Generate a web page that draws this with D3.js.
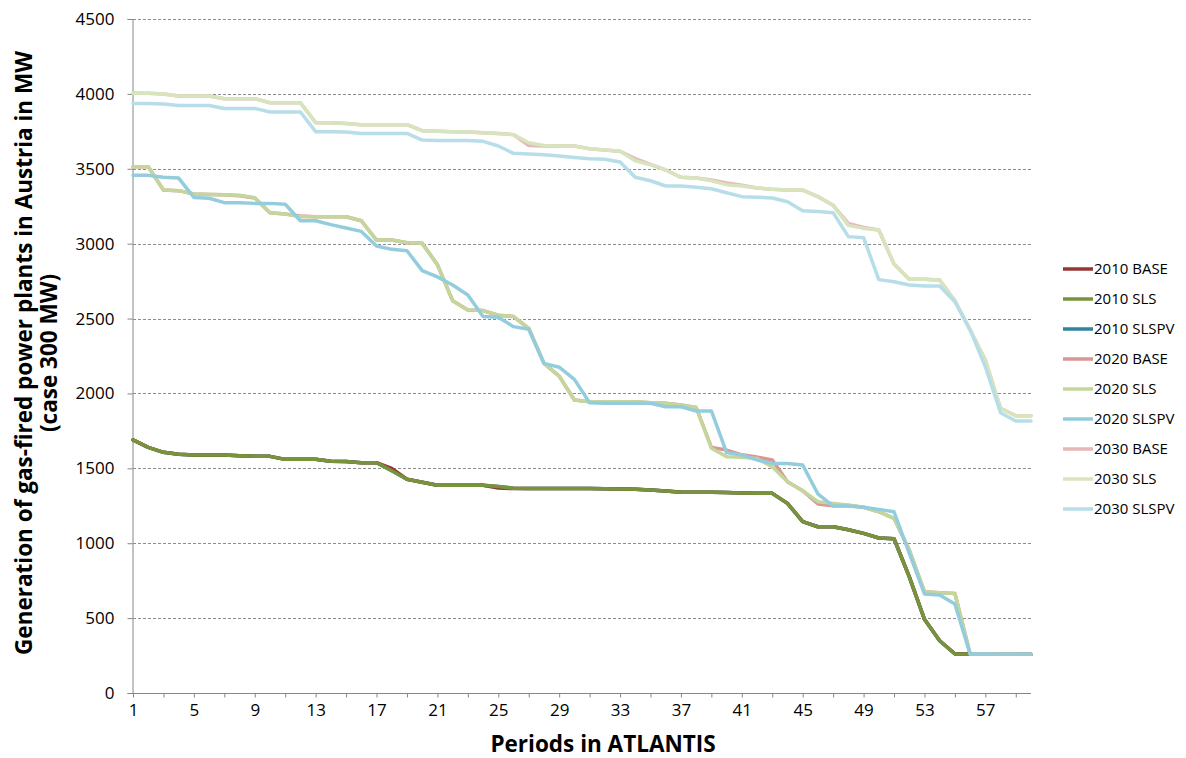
<!DOCTYPE html>
<html>
<head>
<meta charset="utf-8">
<script src="https://cdn.jsdelivr.net/npm/d3@7"></script>
<style>
  html, body { margin: 0; padding: 0; background: #ffffff; }
  svg { display: block; }
  text { font-family: "Open Sans", Lato, "Liberation Sans", sans-serif; fill: #000; }
</style>
</head>
<body>
<svg id="chart" width="1186" height="758"></svg>
<script>
// Periods 1..60 of the ATLANTIS run
const periods = d3.range(1, 61);
const xTickLabels = [1, 5, 9, 13, 17, 21, 25, 29, 33, 37, 41, 45, 49, 53, 57];
const yTicks = [0, 500, 1000, 1500, 2000, 2500, 3000, 3500, 4000, 4500];

const seriesNames = ["2010 BASE", "2010 SLS", "2010 SLSPV",
                     "2020 BASE", "2020 SLS", "2020 SLSPV",
                     "2030 BASE", "2030 SLS", "2030 SLSPV"];
const seriesColors = ["#953735", "#77933c", "#31859c",
                      "#d99694", "#c3d69b", "#93cddd",
                      "#e6b9b8", "#d7e4bd", "#b7dee8"];

// Gas-fired generation in Austria, MW (case 300 MW)
const gen2010Base = [1690, 1640, 1607, 1594, 1589, 1589, 1589, 1584, 1580, 1580,
                     1560, 1560, 1560, 1547, 1545, 1538, 1538, 1500, 1427, 1407,
                     1387, 1387, 1387, 1387, 1368, 1365, 1365, 1365, 1365, 1365,
                     1365, 1364, 1362, 1360, 1355, 1349, 1342, 1340, 1340, 1338,
                     1335, 1333, 1333, 1266, 1144, 1110, 1110, 1090, 1066, 1035,
                     1030, 777, 492, 349, 262, 262, 261, 260, 260, 258];
const gen2010Sls  = [1690, 1640, 1607, 1594, 1589, 1589, 1589, 1584, 1580, 1580,
                     1560, 1560, 1560, 1547, 1545, 1538, 1538, 1484, 1427, 1407,
                     1387, 1387, 1387, 1387, 1378, 1367, 1365, 1365, 1365, 1365,
                     1365, 1364, 1362, 1360, 1355, 1349, 1340, 1340, 1340, 1338,
                     1335, 1333, 1333, 1266, 1144, 1110, 1110, 1090, 1066, 1035,
                     1030, 777, 492, 349, 260, 260, 260, 259, 258, 258];
const gen2010Slspv = gen2010Sls.slice();

const gen2020Base = [3514, 3514, 3358, 3354, 3332, 3328, 3326, 3320, 3305, 3207,
                     3198, 3185, 3180, 3180, 3180, 3153, 3024, 3024, 3006, 3002,
                     2860, 2619, 2557, 2553, 2522, 2513, 2435, 2201, 2116, 1956,
                     1945, 1945, 1945, 1945, 1938, 1934, 1923, 1907, 1640, 1622,
                     1590, 1575, 1556, 1411, 1351, 1262, 1250, 1252, 1240, 1210,
                     1166, 955, 676, 670, 665, 262, 262, 261, 260, 258];
const gen2020Sls  = [3514, 3514, 3358, 3354, 3332, 3328, 3326, 3323, 3307, 3207,
                     3198, 3180, 3180, 3180, 3180, 3153, 3024, 3024, 3006, 3002,
                     2860, 2619, 2557, 2553, 2522, 2513, 2435, 2201, 2116, 1956,
                     1945, 1945, 1945, 1945, 1938, 1934, 1923, 1907, 1634, 1578,
                     1574, 1565, 1511, 1411, 1351, 1277, 1266, 1255, 1240, 1210,
                     1166, 955, 676, 670, 665, 260, 260, 259, 258, 258];
const gen2020Slspv = [3456, 3456, 3443, 3438, 3309, 3303, 3274, 3274, 3269, 3269,
                      3263, 3153, 3153, 3127, 3105, 3082, 2984, 2962, 2953, 2820,
                      2778, 2724, 2657, 2513, 2508, 2446, 2428, 2201, 2175, 2094,
                      1938, 1934, 1934, 1934, 1934, 1911, 1911, 1883, 1883, 1605,
                      1589, 1556, 1533, 1533, 1522, 1329, 1248, 1248, 1240, 1226,
                      1210, 933, 661, 654, 594, 260, 260, 259, 258, 258];

const gen2030Base = [4004, 4004, 3999, 3986, 3986, 3986, 3968, 3968, 3968, 3941,
                     3941, 3941, 3808, 3808, 3803, 3794, 3794, 3794, 3794, 3754,
                     3750, 3748, 3745, 3741, 3736, 3728, 3655, 3652, 3652, 3652,
                     3634, 3625, 3617, 3568, 3530, 3492, 3443, 3439, 3425, 3405,
                     3390, 3372, 3363, 3358, 3358, 3314, 3256, 3135, 3108, 3091,
                     2864, 2762, 2762, 2757, 2619, 2424, 2223, 1901, 1851, 1851];
const gen2030Sls  = [4004, 4004, 3999, 3986, 3986, 3986, 3968, 3968, 3968, 3941,
                     3941, 3941, 3808, 3808, 3803, 3794, 3794, 3794, 3794, 3754,
                     3750, 3748, 3745, 3741, 3736, 3728, 3674, 3656, 3652, 3652,
                     3634, 3625, 3617, 3554, 3527, 3492, 3443, 3439, 3420, 3394,
                     3385, 3372, 3363, 3358, 3358, 3314, 3256, 3122, 3102, 3091,
                     2866, 2762, 2762, 2757, 2619, 2424, 2223, 1901, 1851, 1851];
const gen2030Slspv = [3936, 3936, 3932, 3923, 3923, 3923, 3903, 3903, 3903, 3879,
                      3879, 3879, 3748, 3748, 3745, 3736, 3736, 3736, 3736, 3692,
                      3688, 3688, 3688, 3683, 3652, 3603, 3598, 3594, 3585, 3576,
                      3567, 3563, 3545, 3443, 3420, 3385, 3385, 3376, 3367, 3340,
                      3314, 3310, 3305, 3280, 3220, 3214, 3207, 3047, 3040, 2760,
                      2746, 2724, 2717, 2717, 2612, 2424, 2178, 1871, 1816, 1816];

const seriesValues = [gen2010Base, gen2010Sls, gen2010Slspv,
                      gen2020Base, gen2020Sls, gen2020Slspv,
                      gen2030Base, gen2030Sls, gen2030Slspv];

const series = seriesNames.map((name, i) => ({
  name, color: seriesColors[i],
  points: periods.map((p, j) => ({ p, v: seriesValues[i][j] }))
}));

// Layout
const plot = { left: 133, right: 1031, top: 19, bottom: 693 };
const svg = d3.select("#chart");

const x = d3.scaleLinear().domain([1, 60]).range([plot.left, plot.right]);
const y = d3.scaleLinear().domain([0, 4500]).range([plot.bottom, plot.top]);

// Horizontal dashed gridlines
svg.append("g")
  .selectAll("line")
  .data(yTicks.filter(t => t > 0))
  .join("line")
  .attr("x1", plot.left).attr("x2", plot.right)
  .attr("y1", d => Math.round(y(d)) + 0.5).attr("y2", d => Math.round(y(d)) + 0.5)
  .attr("stroke", "#8c8c8c")
  .attr("stroke-width", 1)
  .attr("stroke-dasharray", "3,2");

// Y axis
const yAxis = d3.axisLeft(y).tickValues(yTicks).tickSize(5).tickPadding(13)
  .tickFormat(d3.format("d"));
const gy = svg.append("g")
  .attr("transform", `translate(${plot.left - 0.5},0)`)
  .call(yAxis);
gy.select(".domain").attr("stroke", "#868686");
gy.selectAll(".tick line").attr("stroke", "#868686");
gy.selectAll(".tick text")
  .attr("font-size", 17)
  .attr("font-family", "'Open Sans', sans-serif")
  .attr("fill", "#000");

// X axis: ticks every 2 periods, labels every 4
const gx = svg.append("g")
  .attr("transform", `translate(0,${plot.bottom + 0.5})`)
  .call(d3.axisBottom(x).tickValues(d3.range(1, 61, 2)).tickSize(4)
        .tickFormat(d => xTickLabels.includes(d) ? d : ""));
gx.select(".domain").attr("stroke", "#868686")
  .attr("d", `M${plot.left},0H${plot.right}`);
gx.selectAll(".tick line").attr("stroke", "#868686");
gx.selectAll(".tick text")
  .attr("font-size", 17)
  .attr("font-family", "'Open Sans', sans-serif")
  .attr("fill", "#000")
  .attr("dy", "0.9em");

// Series lines
const line = d3.line().x(d => x(d.p)).y(d => y(d.v));
const drawOrder = [2, 0, 1, 3, 4, 5, 6, 7, 8];
svg.append("g")
  .selectAll("path")
  .data(drawOrder.map(i => series[i]))
  .join("path")
  .attr("d", d => line(d.points))
  .attr("fill", "none")
  .attr("stroke", d => d.color)
  .attr("stroke-width", 3.5)
  .attr("stroke-linejoin", "round")
  .attr("stroke-linecap", "round");

// Legend
const legend = svg.append("g").attr("transform", "translate(1063,269)");
const item = legend.selectAll("g")
  .data(series)
  .join("g")
  .attr("transform", (d, i) => `translate(0,${i * 30})`);
item.append("line")
  .attr("x1", 0).attr("x2", 30).attr("y1", 0).attr("y2", 0)
  .attr("stroke", d => d.color).attr("stroke-width", 3.5);
item.append("text")
  .attr("x", 31).attr("y", 0).attr("dy", "0.35em")
  .attr("font-size", 15)
  .text(d => d.name);

// Axis titles
svg.append("text")
  .attr("x", 603).attr("y", 752)
  .attr("text-anchor", "middle")
  .attr("font-size", 22.5).attr("font-weight", "bold")
  .text("Periods in ATLANTIS");

const yTitle = svg.append("text")
  .attr("transform", `translate(32,${(plot.top + plot.bottom) / 2 - 3}) rotate(-90)`)
  .attr("text-anchor", "middle")
  .attr("font-size", 22.5).attr("font-weight", "bold");
yTitle.append("tspan").attr("x", 0).attr("dy", 0)
  .text("Generation of gas-fired power plants in Austria in MW");
yTitle.append("tspan").attr("x", 0).attr("dy", 25)
  .text("(case 300 MW)");
</script>
</body>
</html>
